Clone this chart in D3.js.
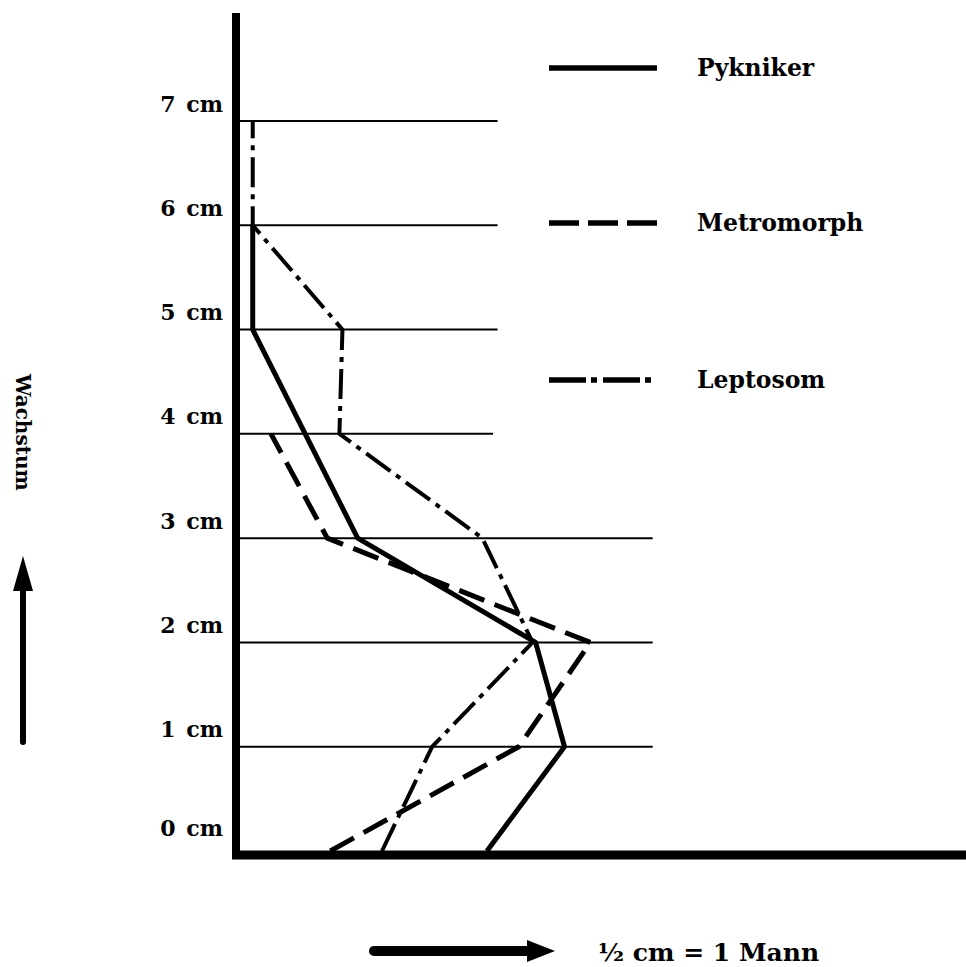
<!DOCTYPE html>
<html>
<head>
<meta charset="utf-8">
<script src="https://cdn.jsdelivr.net/npm/d3@7"></script>
<style>
  html, body { margin: 0; padding: 0; background: #fff; }
  svg { display: block; }
  text { font-family: "DejaVu Serif", serif; font-weight: bold; fill: #000; }
</style>
</head>
<body>
<svg id="chart" width="966" height="967"></svg>
<script>
// ---- data (x in "Mann", y in cm of growth) ----
const yTicks = [0, 1, 2, 3, 4, 5, 6, 7];
const tickLabels = ["0 cm", "1 cm", "2 cm", "3 cm", "4 cm", "5 cm", "6 cm", "7 cm"];
const gridExtent = [null, 27.4, 27.4, 27.4, 16.9, 17.2, 17.2, 17.2];

const pyknikerY = [0, 1, 2, 3, 5, 6];
const pyknikerX = [16.5, 21.6, 19.7, 8.0, 1.1, 1.1];

const metromorphY = [0, 1, 2, 3, 4];
const metromorphX = [6.2, 18.6, 23.3, 6.0, 2.3];

const leptosomY = [0, 1, 2, 3, 4, 5, 6, 7];
const leptosomX = [9.6, 12.9, 19.5, 16.2, 6.8, 7.0, 1.1, 1.1];

const seriesNames = ["Pykniker", "Metromorph", "Leptosom"];

// ---- scales ----
const svg = d3.select("#chart");
const x = d3.scaleLinear().domain([0, 48]).range([236, 966]);
const y = d3.scaleLinear().domain([0, 7]).range([851, 121]);

// gridlines
svg.append("g").selectAll("line")
  .data(yTicks.filter((d, i) => gridExtent[i] !== null))
  .join("line")
  .attr("x1", x(0) - 4)
  .attr("x2", d => x(gridExtent[d]))
  .attr("y1", d => y(d)).attr("y2", d => y(d))
  .attr("stroke", "#000").attr("stroke-width", 2);

// y axis via d3 axis (labels), custom styled
const yAxis = d3.axisLeft(y).tickValues(yTicks).tickSize(0)
  .tickFormat((d, i) => tickLabels[i]);
const gy = svg.append("g").attr("transform", "translate(223,0)").call(yAxis);
gy.select(".domain").remove();
gy.selectAll("text")
  .attr("x", 0)
  .attr("dy", null)
  .attr("y", d => d === 0 ? -16 : -10)
  .attr("text-anchor", "end")
  .style("font-family", "'DejaVu Serif', serif")
  .style("font-weight", "bold")
  .style("font-size", "22px")
  .attr("fill", "#000")
  .attr("word-spacing", "3px");

// series
const line = d3.line().x(d => x(d[0])).y(d => y(d[1]));
const series = [
  { name: seriesNames[0], pts: pyknikerX.map((v, i) => [v, pyknikerY[i]]), dash: null, w: 5 },
  { name: seriesNames[1], pts: metromorphX.map((v, i) => [v, metromorphY[i]]), dash: "27,11", w: 5 },
  { name: seriesNames[2], pts: leptosomX.map((v, i) => [v, leptosomY[i]]), dash: "30,7,5,7", w: 4 }
];
svg.append("g").selectAll("path")
  .data(series)
  .join("path")
  .attr("d", d => line(d.pts))
  .attr("fill", "none")
  .attr("stroke", "#000")
  .attr("stroke-width", d => d.w)
  .attr("stroke-linejoin", "round")
  .attr("stroke-dasharray", d => d.dash);

// axes lines
svg.append("line")
  .attr("x1", x(0)).attr("x2", x(0))
  .attr("y1", 13).attr("y2", y(0) + 8)
  .attr("stroke", "#000").attr("stroke-width", 8);
svg.append("line")
  .attr("x1", x(0) - 4).attr("x2", x(48))
  .attr("y1", y(0) + 4).attr("y2", y(0) + 4)
  .attr("stroke", "#000").attr("stroke-width", 9);

// legend
const legY = [68, 223, 380];
const legDash = [null, "30,9", "37,5,6,6"];
const leg = svg.append("g");
seriesNames.forEach((n, i) => {
  leg.append("line")
    .attr("x1", 549).attr("x2", 657)
    .attr("y1", legY[i]).attr("y2", legY[i])
    .attr("stroke", "#000").attr("stroke-width", 5.5)
    .attr("stroke-dasharray", legDash[i]);
  leg.append("text")
    .attr("x", 697).attr("y", legY[i] + 8)
    .style("font-size", "23.5px")
    .text(n);
});

// y-axis title and arrow
svg.append("text")
  .attr("transform", "translate(16,374) rotate(90)")
  .attr("text-anchor", "start")
  .style("font-size", "20px")
  .text("Wachstum");
svg.append("line")
  .attr("x1", 23).attr("x2", 23)
  .attr("y1", 580).attr("y2", 742)
  .attr("stroke", "#000").attr("stroke-width", 6).attr("stroke-linecap", "round");
svg.append("path")
  .attr("d", "M23,556 L33,591 L13,591 Z")
  .attr("fill", "#000");

// bottom arrow and scale note
svg.append("line")
  .attr("x1", 374).attr("x2", 532)
  .attr("y1", 951).attr("y2", 951)
  .attr("stroke", "#000").attr("stroke-width", 10).attr("stroke-linecap", "round");
svg.append("path")
  .attr("d", "M555,951 L527,940 L527,962 Z")
  .attr("fill", "#000");
svg.append("text")
  .attr("x", 598).attr("y", 961)
  .style("font-size", "25px")
  .text("½ cm = 1 Mann");
</script>
</body>
</html>
